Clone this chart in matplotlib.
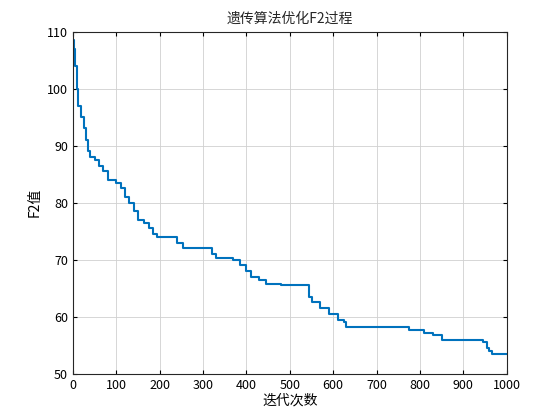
import matplotlib
matplotlib.use("Agg")
import matplotlib.pyplot as plt

plt.rcParams['font.family'] = ['Noto Sans CJK SC', 'DejaVu Sans']

iters = [0, 3, 6, 10, 13, 20, 25, 30, 35, 40, 50, 60, 70, 80, 100, 110, 120, 130, 140, 150,
         165, 175, 185, 195, 240, 255, 320, 330, 370, 385, 400, 410, 430, 445, 480, 540, 545,
         550, 570, 590, 610, 625, 630, 775, 810, 830, 850, 945, 955, 960, 965, 1000]
f2 = [108.5, 107, 104, 100, 97, 95, 93, 91, 89, 88, 87.5, 86.5, 85.5, 84, 83.5, 82.5, 81, 80, 78.5, 77,
      76.5, 75.5, 74.5, 74, 73, 72, 71, 70.3, 70, 69, 68, 67, 66.5, 65.8, 65.6, 65.5, 63.5,
      62.5, 61.5, 60.5, 59.5, 59, 58.2, 57.6, 57.2, 56.8, 56, 55.5, 54.5, 54, 53.5, 53.5]

fig = plt.figure(figsize=(5.6, 4.2), dpi=100)
ax = fig.add_axes([0.13, 0.11, 0.775, 0.815])
ax.step(iters, f2, where='post', color='#0072BD', linewidth=1.5)
ax.set_xlim(0, 1000)
ax.set_ylim(50, 110)
ax.set_xticks(range(0, 1001, 100))
ax.set_yticks(range(50, 111, 10))
ax.grid(True, color='#d0d0d0', linewidth=0.6)
ax.tick_params(direction='in', labelsize=9, length=3, top=True, right=True, labeltop=False, labelright=False)
for s in ax.spines.values():
    s.set_linewidth(0.8)
    s.set_color('#262626')
ax.set_title('遗传算法优化F2过程', fontsize=10, color='#262626')
ax.set_xlabel('迭代次数', fontsize=10, labelpad=1)
ax.set_ylabel('F2值', fontsize=10)
fig.savefig('out.png')
